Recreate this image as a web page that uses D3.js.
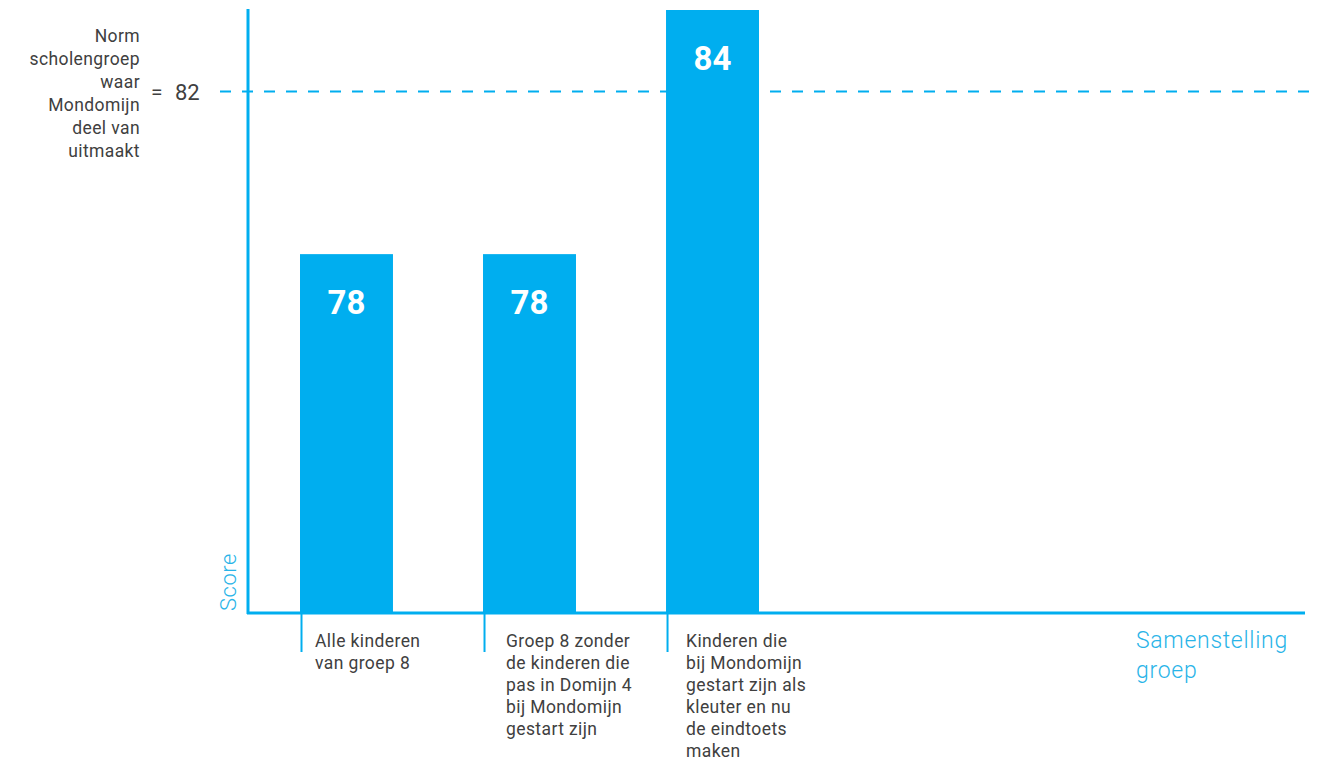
<!DOCTYPE html>
<html>
<head>
<meta charset="utf-8">
<script src="https://cdn.jsdelivr.net/npm/d3@7"></script>
<style>
	body { margin: 0; background: #fff; }
	text { font-family: Roboto, "Noto Sans", sans-serif; }
</style>
</head>
<body>
<div id="chart"></div>
<script>
// categories, split in the lines they are printed in
var categories = [
	['Alle kinderen', 'van groep 8'],
	['Groep 8 zonder', 'de kinderen die', 'pas in Domijn 4', 'bij Mondomijn', 'gestart zijn'],
	['Kinderen die', 'bij Mondomijn', 'gestart zijn als', 'kleuter en nu', 'de eindtoets', 'maken']
];
var scores = [78, 78, 84];
var normValue = 82;
var normLabel = ['Norm', 'scholengroep', 'waar', 'Mondomijn', 'deel van', 'uitmaakt'];
var yLabel = 'Score';
var xLabel = ['Samenstelling', 'groep'];

var W = 1323, H = 763;
var blue = '#00aeef', lightBlue = '#29b4e8', textCol = '#404040';
// indent of each category text from its tick
var catIndent = [15, 23, 20];

var svg = d3.select('#chart').append('svg')
	.attr('width', W)
	.attr('height', H);

var axisX = 248, axisY = 613, axisTop = 10, axisRight = 1305;

var x = d3.scaleBand()
	.domain(d3.range(categories.length))
	.range([300, 759])
	.paddingInner(0.492)
	.paddingOuter(0);

var y = d3.scaleLinear()
	.domain([69.18, 84])
	.range([axisY, axisTop]);

// norm line
svg.append('line')
	.attr('x1', 220).attr('x2', 1310)
	.attr('y1', y(normValue)).attr('y2', y(normValue))
	.attr('stroke', blue)
	.attr('stroke-width', 2)
	.attr('stroke-dasharray', '11,11');

// bars
svg.selectAll('rect.bar')
	.data(scores)
	.enter()
	.append('rect')
	.attr('class', 'bar')
	.attr('x', function(d, i) { return x(i); })
	.attr('y', function(d) { return y(d); })
	.attr('width', x.bandwidth())
	.attr('height', function(d) { return axisY - y(d); })
	.attr('fill', blue);

svg.selectAll('text.val')
	.data(scores)
	.enter()
	.append('text')
	.attr('class', 'val')
	.attr('x', function(d, i) { return x(i) + x.bandwidth()/2; })
	.attr('y', function(d) { return y(d) + 60; })
	.attr('text-anchor', 'middle')
	.attr('fill', '#fff')
	.style('font-size', '33px')
	.style('font-weight', 'bold')
	.text(function(d) { return d; });

// axes
svg.append('line')
	.attr('x1', axisX).attr('x2', axisX)
	.attr('y1', axisTop - 1).attr('y2', axisY + 1)
	.attr('stroke', blue).attr('stroke-width', 3);
svg.append('line')
	.attr('x1', axisX - 1).attr('x2', axisRight)
	.attr('y1', axisY).attr('y2', axisY)
	.attr('stroke', blue).attr('stroke-width', 3);

// category ticks under the axis
svg.selectAll('line.tick')
	.data(categories)
	.enter()
	.append('line')
	.attr('class', 'tick')
	.attr('x1', function(d, i) { return x(i) + 1.5; })
	.attr('x2', function(d, i) { return x(i) + 1.5; })
	.attr('y1', axisY).attr('y2', axisY + 39)
	.attr('stroke', blue).attr('stroke-width', 2);

var catText = svg.selectAll('text.cat')
	.data(categories)
	.enter()
	.append('text')
	.attr('class', 'cat')
	.attr('fill', textCol)
	.style('font-size', '17.5px')
	.style('letter-spacing', '0.4px');
catText.selectAll('tspan')
	.data(function(d, i) { return d.map(function(s) { return {s: s, i: i}; }); })
	.enter()
	.append('tspan')
	.attr('x', function(d) { return x(d.i) + catIndent[d.i]; })
	.attr('y', function(d, j) { return axisY + 34 + j*22; })
	.text(function(d) { return d.s; });

// norm label
svg.append('text')
	.attr('fill', textCol)
	.attr('text-anchor', 'end')
	.style('font-size', '17.5px')
	.style('letter-spacing', '0.4px')
	.selectAll('tspan')
	.data(normLabel)
	.enter()
	.append('tspan')
	.attr('x', 140)
	.attr('y', function(d, i) { return 42 + i*23; })
	.text(function(d) { return d; });

svg.append('text')
	.attr('x', 151)
	.attr('y', y(normValue) + 8)
	.attr('fill', textCol)
	.style('font-size', '21px')
	.text('=');
svg.append('text')
	.attr('x', 175)
	.attr('y', y(normValue) + 9)
	.attr('fill', textCol)
	.style('font-size', '22px')
	.text(normValue);

// axis titles
svg.append('text')
	.attr('transform', 'translate(236,611) rotate(-90)')
	.attr('fill', lightBlue)
	.style('font-size', '22px')
	.style('font-weight', 300)
	.style('letter-spacing', '0.5px')
	.text(yLabel);

svg.append('text')
	.attr('fill', lightBlue)
	.style('font-size', '23px')
	.style('font-weight', 300)
	.style('letter-spacing', '0.7px')
	.selectAll('tspan')
	.data(xLabel)
	.enter()
	.append('tspan')
	.attr('x', 1136)
	.attr('y', function(d, i) { return 648 + i*30; })
	.text(function(d) { return d; });
</script>
</body>
</html>
